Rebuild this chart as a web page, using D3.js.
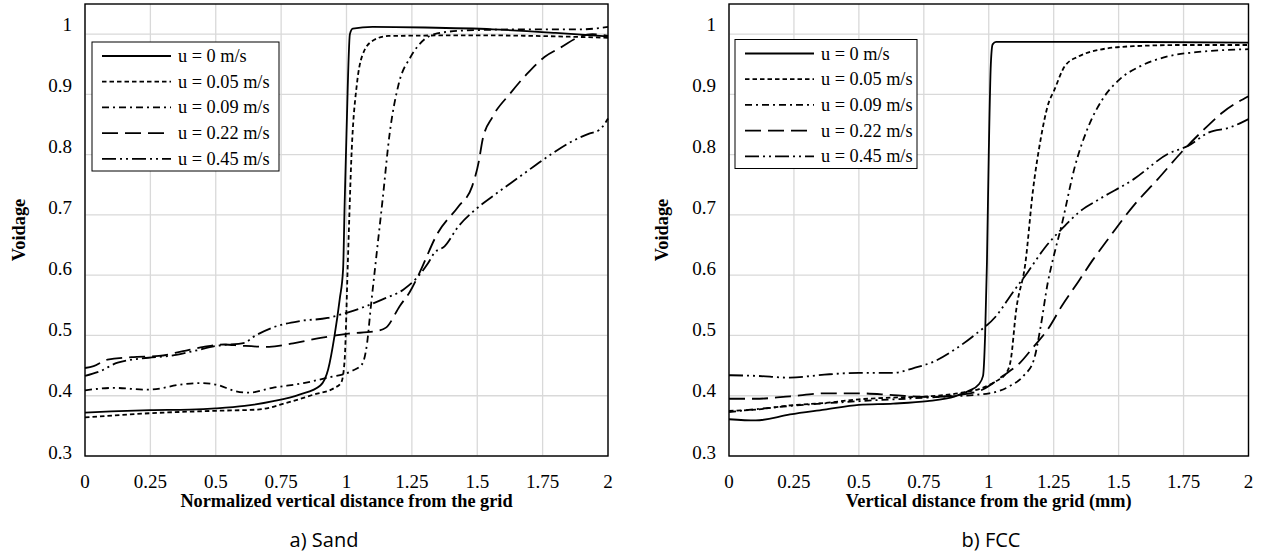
<!DOCTYPE html>
<html>
<head>
<meta charset="UTF-8">
<script src="https://cdn.jsdelivr.net/npm/d3@7"></script>
<style>
  body { margin: 0; background: #fff; }
  text { font-family: "Liberation Serif", "Times New Roman", serif; fill: #000; }
</style>
</head>
<body>
<svg id="chart" width="1262" height="556"></svg>
<script>
// ---- data ----
var xTicks = [0, 0.25, 0.5, 0.75, 1, 1.25, 1.5, 1.75, 2];
var yTicks = [0.3, 0.4, 0.5, 0.6, 0.7, 0.8, 0.9, 1];
var seriesNames = ["u = 0 m/s", "u = 0.05 m/s", "u = 0.09 m/s", "u = 0.22 m/s", "u = 0.45 m/s"];

// a) Sand : [normalized distance, voidage]
var sand_u0 = [[0,0.372],[0.1,0.374],[0.25,0.376],[0.4,0.377],[0.5,0.379],[0.61,0.383],[0.72,0.391],[0.82,0.402],[0.9,0.417],[0.93,0.444],[0.954,0.499],[0.974,0.56],[0.987,0.61],[0.993,0.72],[1.0,0.835],[1.013,1.0],[1.024,1.009],[1.1,1.012],[1.3,1.011],[1.56,1.008],[1.8,1.002],[2,0.996]];
var sand_u005 = [[0,0.364],[0.25,0.371],[0.5,0.375],[0.66,0.377],[0.77,0.388],[0.875,0.402],[0.954,0.413],[0.98,0.422],[0.993,0.46],[1.005,0.62],[1.02,0.808],[1.04,0.918],[1.06,0.964],[1.1,0.989],[1.16,0.997],[1.5,0.998],[2,0.994]];
var sand_u009 = [[0,0.409],[0.11,0.413],[0.24,0.41],[0.375,0.419],[0.44,0.421],[0.507,0.418],[0.572,0.408],[0.625,0.405],[0.717,0.413],[0.836,0.421],[0.928,0.43],[1.02,0.441],[1.059,0.452],[1.079,0.488],[1.092,0.543],[1.11,0.615],[1.138,0.725],[1.165,0.835],[1.2,0.918],[1.245,0.962],[1.3,0.992],[1.336,1.0],[1.45,1.006],[1.7,1.008],[1.9,1.008],[2,1.012]];
var sand_u022 = [[0,0.446],[0.033,0.449],[0.086,0.46],[0.178,0.464],[0.283,0.466],[0.375,0.474],[0.454,0.481],[0.533,0.485],[0.599,0.483],[0.704,0.481],[0.796,0.487],[0.901,0.496],[1.007,0.503],[1.112,0.507],[1.151,0.513],[1.204,0.549],[1.243,0.573],[1.275,0.6],[1.349,0.67],[1.428,0.714],[1.48,0.747],[1.507,0.791],[1.52,0.824],[1.559,0.863],[1.625,0.901],[1.69,0.934],[1.757,0.962],[1.82,0.978],[1.888,0.995],[1.94,1.0],[2,0.997]];
var sand_u045 = [[0,0.433],[0.059,0.441],[0.125,0.455],[0.243,0.463],[0.322,0.466],[0.414,0.474],[0.507,0.483],[0.612,0.488],[0.638,0.496],[0.717,0.513],[0.822,0.524],[0.928,0.529],[0.98,0.535],[1.059,0.546],[1.138,0.56],[1.217,0.576],[1.27,0.596],[1.309,0.618],[1.336,0.637],[1.375,0.648],[1.428,0.681],[1.493,0.709],[1.559,0.731],[1.664,0.764],[1.77,0.797],[1.849,0.819],[1.928,0.835],[1.967,0.841],[2,0.86]];

// b) FCC : [distance (mm), voidage]
var fcc_u0 = [[0,0.361],[0.103,0.359],[0.235,0.369],[0.367,0.377],[0.5,0.385],[0.632,0.387],[0.764,0.391],[0.87,0.399],[0.923,0.408],[0.962,0.419],[0.978,0.433],[0.986,0.5],[0.993,0.62],[1.0,0.8],[1.008,0.95],[1.015,0.983],[1.028,0.987],[1.5,0.987],[2,0.986]];
var fcc_u005 = [[0,0.375],[0.103,0.377],[0.235,0.384],[0.367,0.388],[0.5,0.394],[0.632,0.397],[0.764,0.399],[0.896,0.405],[0.975,0.413],[1.028,0.424],[1.068,0.438],[1.085,0.46],[1.105,0.54],[1.141,0.62],[1.17,0.74],[1.2,0.826],[1.227,0.881],[1.253,0.908],[1.293,0.947],[1.346,0.963],[1.425,0.974],[1.557,0.98],[1.755,0.982],[2,0.982]];
var fcc_u009 = [[0,0.373],[0.235,0.383],[0.5,0.391],[0.764,0.397],[1.002,0.404],[1.081,0.416],[1.134,0.433],[1.174,0.46],[1.2,0.515],[1.227,0.587],[1.247,0.626],[1.28,0.682],[1.332,0.781],[1.385,0.848],[1.438,0.892],[1.504,0.925],[1.584,0.947],[1.689,0.963],[1.822,0.971],[2,0.975]];
var fcc_u022 = [[0,0.395],[0.103,0.395],[0.235,0.399],[0.367,0.404],[0.5,0.404],[0.632,0.401],[0.764,0.398],[0.896,0.402],[0.975,0.41],[1.055,0.433],[1.121,0.455],[1.174,0.482],[1.227,0.51],[1.28,0.548],[1.346,0.59],[1.4,0.625],[1.451,0.655],[1.557,0.715],[1.65,0.759],[1.742,0.804],[1.822,0.839],[1.9,0.87],[2,0.897]];
var fcc_u045 = [[0,0.434],[0.103,0.433],[0.235,0.43],[0.367,0.435],[0.5,0.438],[0.632,0.438],[0.711,0.446],[0.79,0.457],[0.87,0.477],[0.949,0.502],[1.028,0.532],[1.095,0.573],[1.15,0.605],[1.213,0.644],[1.293,0.682],[1.346,0.704],[1.425,0.726],[1.557,0.759],[1.689,0.801],[1.769,0.815],[1.848,0.837],[1.927,0.845],[2,0.859]];

// line styles for the five speeds
var dashes = ["none", "4.5,3", "7,4,2,4", "16,7", "14,4,2,4,2,4"];

var svg = d3.select("#chart");

function drawPanel(p) {
  var x = d3.scaleLinear().domain([0, 2]).range([p.left, p.right]);
  var y = d3.scaleLinear().domain([0.3, 1.05]).range([456, 4]);
  // the value labels sit a little above their gridlines in the source picture
  var yLab = d3.scaleLinear().domain([0.3, 1]).range([452, 24]);
  var g = svg.append("g");

  // gridlines
  g.append("g").selectAll("line").data(xTicks).enter().append("line")
    .attr("x1", function(d) { return x(d); }).attr("x2", function(d) { return x(d); })
    .attr("y1", y(0.3)).attr("y2", y(1.05))
    .style("stroke", "#d9d9d9").style("stroke-width", 1.3);
  g.append("g").selectAll("line").data(yTicks).enter().append("line")
    .attr("x1", x(0)).attr("x2", x(2))
    .attr("y1", function(d) { return y(d); }).attr("y2", function(d) { return y(d); })
    .style("stroke", "#d9d9d9").style("stroke-width", 1.3);

  // tick labels
  g.append("g").selectAll("text").data(xTicks).enter().append("text")
    .attr("x", function(d) { return x(d); })
    .attr("y", 488)
    .attr("text-anchor", "middle")
    .style("font-size", "19px")
    .text(function(d) { return String(d); });
  g.append("g").selectAll("text").data(yTicks).enter().append("text")
    .attr("x", x(0) - 13)
    .attr("y", function(d) { return yLab(d) + 6.5; })
    .attr("text-anchor", "end")
    .style("font-size", "19px")
    .text(function(d) { return String(d); });

  // curves
  var line = d3.line()
    .x(function(d) { return x(d[0]); })
    .y(function(d) { return y(d[1]); })
    .curve(d3.curveMonotoneX);

  g.append("g").selectAll("path").data(p.series).enter().append("path")
    .attr("d", line)
    .style("fill", "none")
    .style("stroke", "#000")
    .style("stroke-width", 1.8)
    .style("stroke-dasharray", function(d, i) { return dashes[i]; });

  // plot frame
  g.append("rect")
    .attr("x", x(0)).attr("y", y(1.05))
    .attr("width", x(2) - x(0)).attr("height", y(0.3) - y(1.05))
    .style("fill", "none").style("stroke", "#000").style("stroke-width", 1.4);

  // legend
  var lg = g.append("g").attr("transform", "translate(" + (x(0) + p.legX) + "," + p.legY + ")");
  lg.append("rect").attr("width", p.legW).attr("height", 129)
    .style("fill", "#fff").style("stroke", "#000").style("stroke-width", 1);
  seriesNames.forEach(function(name, i) {
    var yy = 14 + i * 25.7;
    lg.append("line").attr("x1", 10).attr("x2", 79).attr("y1", yy).attr("y2", yy)
      .style("stroke", "#000").style("stroke-width", 1.8)
      .style("stroke-dasharray", dashes[i]);
    lg.append("text").attr("x", 86).attr("y", yy + 6)
      .style("font-size", "18.3px").text(name);
  });

  // axis titles
  g.append("text")
    .attr("x", (x(0) + x(2)) / 2).attr("y", 507)
    .attr("text-anchor", "middle")
    .style("font-size", "18.3px").style("font-weight", "bold")
    .text(p.xTitle);
  g.append("text")
    .attr("transform", "translate(" + p.yTitleX + ",230) rotate(-90)")
    .attr("text-anchor", "middle")
    .style("font-size", "18.3px").style("font-weight", "bold")
    .text("Voidage");

  // caption
  g.append("text")
    .attr("x", p.capX).attr("y", 547)
    .attr("text-anchor", "middle")
    .style("font-family", "Open Sans")
    .style("font-size", "20px")
    .text(p.caption);
}

drawPanel({
  left: 85, right: 608,
  series: [sand_u0, sand_u005, sand_u009, sand_u022, sand_u045],
  legX: 7, legY: 42, legW: 187,
  xTitle: "Normalized vertical distance from the grid",
  yTitleX: 25, capX: 324, caption: "a) Sand"
});

drawPanel({
  left: 729, right: 1248.5,
  series: [fcc_u0, fcc_u005, fcc_u009, fcc_u022, fcc_u045],
  legX: 6, legY: 39.5, legW: 182,
  xTitle: "Vertical distance from the grid (mm)",
  yTitleX: 668, capX: 991, caption: "b) FCC"
});
</script>
</body>
</html>
